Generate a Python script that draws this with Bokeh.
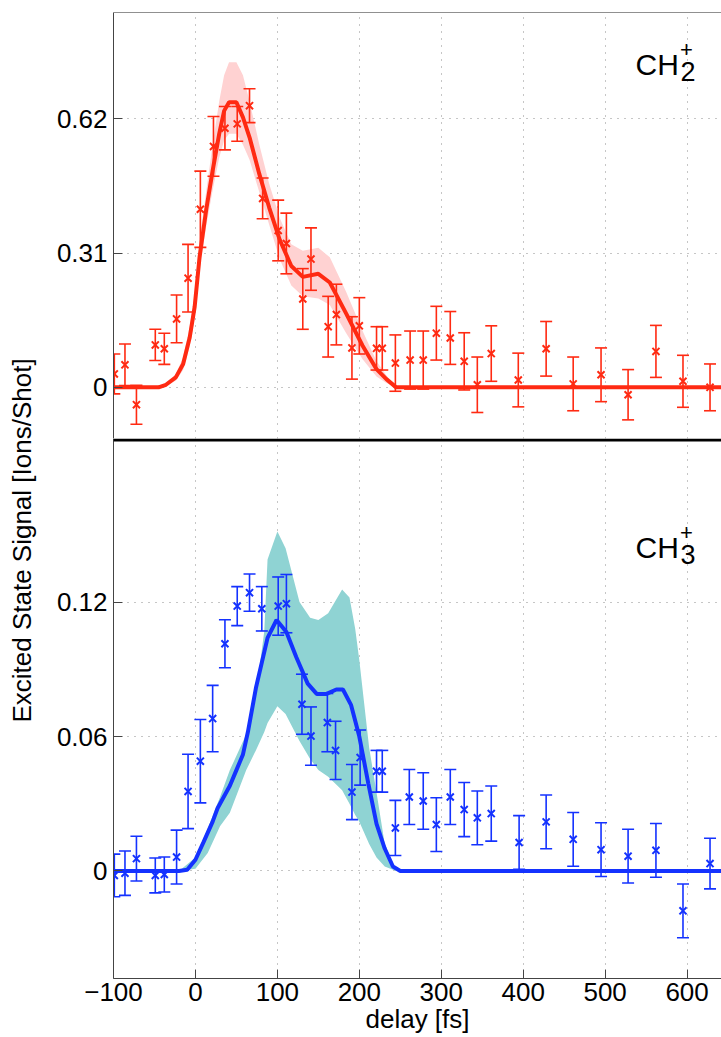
from bokeh.plotting import figure
from bokeh.models import (ColumnDataSource, Label, LinearAxis, FixedTicker, Range1d, Span)
from bokeh.layouts import row, column
from bokeh.embed import file_html
from bokeh.resources import INLINE

# ---------------- data ----------------
x_ticks = [-100, 0, 100, 200, 300, 400, 500, 600]
top_y_ticks = [0, 0.31, 0.62]
bot_y_ticks = [0, 0.06, 0.12]

# CH2+ measured points
ch2_t = [-99, -86, -72, -49, -38, -23, -9, 6, 22, 36, 51, 66, 82, 101, 111, 131, 141,
         162, 172, 191, 200, 221, 228, 244, 262, 278, 294, 311, 328, 344, 361, 394,
         428, 461, 495, 528, 562, 595, 628]
ch2_y = [0.031, 0.052, -0.040, 0.098, 0.089, 0.158, 0.252, 0.411, 0.556, 0.598, 0.608,
         0.650, 0.436, 0.362, 0.332, 0.204, 0.296, 0.140, 0.168, 0.091, 0.142, 0.090,
         0.090, 0.056, 0.063, 0.063, 0.125, 0.114, 0.060, 0.006, 0.078, 0.017, 0.089,
         0.008, 0.029, -0.017, 0.083, 0.014, 0.000]
ch2_err = [0.046, 0.048, 0.045, 0.036, 0.036, 0.055, 0.078, 0.088, 0.069, 0.050, 0.040,
           0.039, 0.047, 0.070, 0.070, 0.070, 0.072, 0.070, 0.070, 0.072, 0.065, 0.050,
           0.050, 0.065, 0.067, 0.067, 0.062, 0.061, 0.066, 0.064, 0.064, 0.062, 0.063,
           0.062, 0.062, 0.058, 0.060, 0.060, 0.054]

# CH2+ fit and band
ch2_fit_t = [-100, -45, -36, -24, -15, -7, -1, 5, 13, 21, 29, 35, 41, 50, 58, 66, 78, 90,
             103, 117, 131, 150, 164, 184, 204, 221, 233, 245, 642]
ch2_fit = [0, 0, 0.006, 0.023, 0.054, 0.115, 0.185, 0.30, 0.408, 0.50, 0.585, 0.638,
           0.658, 0.658, 0.623, 0.577, 0.492, 0.415, 0.34, 0.28, 0.255, 0.262, 0.242,
           0.17, 0.096, 0.042, 0.019, 0, 0]
ch2_lo = [0, 0, 0.003, 0.015, 0.04, 0.095, 0.16, 0.27, 0.37, 0.455, 0.53, 0.57, 0.585,
          0.585, 0.56, 0.525, 0.45, 0.375, 0.295, 0.235, 0.21, 0.205, 0.19, 0.125, 0.065,
          0.025, 0.01, 0, 0]
ch2_hi = [0, 0, 0.01, 0.03, 0.07, 0.14, 0.215, 0.34, 0.45, 0.56, 0.66, 0.72, 0.75, 0.75,
          0.72, 0.66, 0.56, 0.47, 0.39, 0.33, 0.315, 0.322, 0.30, 0.22, 0.13, 0.06, 0.028,
          0, 0]

# CH3+ measured points
ch3_t = [-99, -86, -72, -49, -38, -23, -9, 6, 21, 36, 51, 66, 81, 101, 111, 130, 141,
         161, 171, 191, 201, 221, 228, 244, 261, 278, 294, 311, 328, 344, 361, 395,
         428, 461, 495, 528, 562, 595, 628]
ch3_y = [-0.002, -0.001, 0.0055, -0.002, -0.0016, 0.0062, 0.0355, 0.049, 0.068, 0.1014,
         0.1182, 0.1242, 0.117, 0.1182, 0.1193, 0.0744, 0.0602, 0.0662, 0.0538, 0.0352,
         0.0506, 0.0445, 0.0445, 0.0192, 0.033, 0.0312, 0.0207, 0.033, 0.0274, 0.0237,
         0.0256, 0.0127, 0.0219, 0.0141, 0.0095, 0.0066, 0.0092, -0.0178, 0.0033]
ch3_err = [0.0095, 0.0099, 0.010, 0.0078, 0.0078, 0.012, 0.0166, 0.0186, 0.0148, 0.0107,
           0.0087, 0.0083, 0.0099, 0.013, 0.013, 0.0134, 0.013, 0.013, 0.013, 0.0123,
           0.0123, 0.0093, 0.0093, 0.0123, 0.0123, 0.0126, 0.012, 0.0123, 0.0121, 0.012,
           0.0123, 0.012, 0.012, 0.012, 0.012, 0.012, 0.012, 0.012, 0.0113]

# CH3+ fit and band
ch3_fit_t = [-100, -20, -10, 0, 10, 21, 27, 42, 50, 58, 64, 74, 88, 99, 111, 123, 137,
             148, 160, 172, 180, 190, 200, 211, 221, 231, 241, 250, 642]
ch3_fit = [0, 0, 0.0005, 0.005, 0.013, 0.022, 0.028, 0.038, 0.045, 0.052, 0.062, 0.082,
           0.104, 0.112, 0.1066, 0.0955, 0.0836, 0.079, 0.079, 0.081, 0.081, 0.074, 0.06,
           0.039, 0.021, 0.01, 0.002, 0, 0]
ch3_band_t = [-100, -20, 0, 15, 30, 42, 62, 74, 84, 88, 100, 110, 127, 140, 150, 162, 179,
              188, 195, 200, 212, 221, 231, 245, 642]
ch3_lo = [0, 0, 0.001, 0.008, 0.02, 0.026, 0.045, 0.054, 0.062, 0.066, 0.0735, 0.07,
          0.058, 0.05, 0.045, 0.042, 0.036, 0.03, 0.025, 0.022, 0.012, 0.006, 0.002, 0, 0]
ch3_hi = [0, 0, 0.006, 0.019, 0.033, 0.045, 0.061, 0.079, 0.107, 0.139, 0.1515, 0.144,
          0.12, 0.113, 0.112, 0.115, 0.1256, 0.122, 0.108, 0.094, 0.055, 0.035, 0.012,
          0, 0]

# ---------------- style ----------------
FONT = "Liberation Sans"
RED = "#ff2a12"
PINK = "#ffd2d2"
BLUE = "#1432ff"
TEAL = "#8fd3d3"
LEFT_W = 38
MAIN_W = 683
BORDER_L = 75
TOP_H = 438
BOT_H = 599

x_range = Range1d(-100, 642)
top_yr = Range1d(-0.118, 0.865)
bot_yr = Range1d(-0.048, 0.193)


def style_axis(ax, ticks, overrides=None):
    ax.ticker = FixedTicker(ticks=ticks)
    ax.major_tick_in = 9
    ax.major_tick_out = 0
    ax.minor_tick_in = 0
    ax.minor_tick_out = 0
    ax.axis_line_color = "#444444"
    ax.major_tick_line_color = "#444444"
    ax.major_label_text_font = FONT
    ax.major_label_text_color = "black"
    ax.major_label_text_font_size = "26px"
    ax.major_label_standoff = 6
    if overrides:
        ax.major_label_overrides = overrides


def make_fig(height, yr, yticks, ylabels, top_border, bottom_border):
    p = figure(width=MAIN_W, height=height, x_range=x_range, y_range=yr,
               output_backend="svg", toolbar_location=None,
               x_axis_location=None, min_border_left=BORDER_L, min_border_right=0,
               min_border_top=top_border, min_border_bottom=bottom_border)
    p.outline_line_color = None
    p.background_fill_color = "white"
    p.border_fill_color = "white"
    style_axis(p.yaxis[0], yticks, ylabels)
    p.xgrid.ticker = FixedTicker(ticks=x_ticks)
    p.ygrid.ticker = FixedTicker(ticks=yticks)
    for g in (p.xgrid[0], p.ygrid[0]):
        g.grid_line_color = "#8c8c8c"
        g.grid_line_dash = "1 6"
        g.grid_line_width = 1
    return p


def draw_series(p, t, y, err, ft, fy, bt, blo, bhi, color, band):
    p.varea(x=bt, y1=blo, y2=bhi, fill_color=band, fill_alpha=1.0)
    lo = [a - b for a, b in zip(y, err)]
    hi = [a + b for a, b in zip(y, err)]
    src = ColumnDataSource(dict(t=t, y=y, lo=lo, hi=hi))
    p.segment(x0="t", y0="lo", x1="t", y1="hi", source=src, line_color=color,
              line_width=1.6)
    p.scatter("t", "lo", source=src, marker="dash", size=12, line_color=color,
              line_width=1.6)
    p.scatter("t", "hi", source=src, marker="dash", size=12, line_color=color,
              line_width=1.6)
    p.line(ft, fy, line_color=color, line_width=4)
    p.scatter("t", "y", source=src, marker="x", size=10, line_color=color,
              line_width=2)


def formula(p, x, y, base, sub, up):
    p.add_layout(Label(x=x, y=y, x_units="screen", y_units="screen", text=base,
                       text_font=FONT, text_font_size="30px", text_color="black",
                       text_baseline="alphabetic"))
    p.add_layout(Label(x=x + 45, y=y - 7, x_units="screen", y_units="screen", text=sub,
                       text_font=FONT, text_font_size="27px", text_color="black",
                       text_baseline="alphabetic"))
    p.add_layout(Label(x=x + 51, y=y + 15, x_units="screen", y_units="screen", text=up,
                       text_font=FONT, text_font_size="22px", text_color="black",
                       text_align="center", text_baseline="middle"))


# ---------------- top panel ----------------
top = make_fig(TOP_H, top_yr, top_y_ticks,
               {0: "0", 0.31: "0.31", 0.62: "0.62"}, 12, 0)
draw_series(top, ch2_t, ch2_y, ch2_err, ch2_fit_t, ch2_fit, ch2_fit_t, ch2_lo, ch2_hi,
            RED, PINK)
top.add_layout(Span(location=0.865, dimension="width", line_color="#222222",
                    line_width=1))
formula(top, 522, 374, "CH", "2", "+")

# ---------------- bottom panel ----------------
bot = make_fig(BOT_H, bot_yr, bot_y_ticks,
               {0: "0", 0.06: "0.06", 0.12: "0.12"}, 0, 59)
ax_b = LinearAxis(axis_label="delay [fs]")
style_axis(ax_b, x_ticks, {-100: "\u2212100"})
ax_b.axis_label_text_font = FONT
ax_b.axis_label_text_font_size = "26px"
ax_b.axis_label_text_font_style = "normal"
ax_b.axis_label_text_color = "black"
ax_b.axis_label_standoff = 0
ax_b.major_label_standoff = 4
bot.add_layout(ax_b, "below")
draw_series(bot, ch3_t, ch3_y, ch3_err, ch3_fit_t, ch3_fit, ch3_band_t, ch3_lo, ch3_hi,
            BLUE, TEAL)
# thick separator, drawn just inside the top edge of the lower panel
bot.add_layout(Span(location=0.1923, dimension="width", line_color="black",
                    line_width=3))
formula(bot, 522, 431, "CH", "3", "+")

# ---------------- y label strip ----------------
lab = figure(width=LEFT_W, height=TOP_H + BOT_H, x_range=(0, 1), y_range=(0, 1),
             output_backend="svg", toolbar_location=None, min_border=0)
lab.axis.visible = False
lab.grid.visible = False
lab.outline_line_color = None
lab.add_layout(Label(x=21, y=497, x_units="screen", y_units="screen",
                     text="Excited State Signal [Ions/Shot]", angle=90, angle_units="deg",
                     text_font=FONT, text_font_size="26px", text_color="black",
                     text_align="center", text_baseline="middle"))

layout = row(lab, column(top, bot, spacing=0), spacing=0)
open("out.html", "w").write(file_html(layout, INLINE))
